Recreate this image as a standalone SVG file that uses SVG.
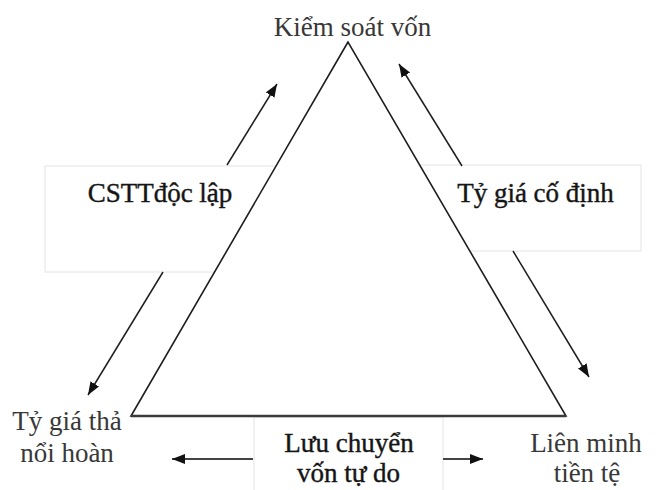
<svg xmlns="http://www.w3.org/2000/svg" width="656" height="490" viewBox="0 0 656 490">
<defs>
<style>
.box{fill:#fff;stroke:#e4e4e4;stroke-width:1}
.tri{fill:#fff;stroke:#1e1e1e;stroke-width:1.6;stroke-linejoin:miter}
.arr{stroke:#1e1e1e;stroke-width:1.5;fill:none;marker-end:url(#ah)}
.harr{stroke:#444;stroke-width:2.2;fill:none;marker-end:url(#ah)}
.t{font-family:"Liberation Serif","Times New Roman",serif;font-size:27px;fill:#383838;text-anchor:middle}
.b{fill:#151515;stroke:#151515;stroke-width:0.4}
</style>
<marker id="ah" markerUnits="userSpaceOnUse" markerWidth="14" markerHeight="12" refX="13" refY="5" orient="auto">
<path d="M0,0 L13,5 L0,10 Z" fill="#111"/>
</marker>
</defs>
<rect width="656" height="490" fill="#fff"/>
<g id="box-cstt"><rect class="box" x="45" y="166" width="240" height="106"/></g>
<g id="box-codinh"><rect class="box" x="420" y="165" width="221" height="86"/></g>
<g id="box-luuchuyen"><rect class="box" x="254" y="417" width="189" height="80"/></g>
<g id="triangle">
<polygon class="tri" points="348,42 131,416 566,416"/>
<line x1="131" y1="416" x2="566" y2="416" stroke="#3a3a3a" stroke-width="2.4"/>
</g>
<g id="connectors">
<line class="arr" x1="227" y1="165" x2="277" y2="84"/>
<line class="arr" x1="462" y1="166" x2="399" y2="64"/>
<line class="arr" x1="163" y1="272" x2="88" y2="395"/>
<line class="arr" x1="513" y1="251" x2="589" y2="377"/>
<line class="harr" x1="253" y1="459" x2="172" y2="459"/>
<line class="harr" x1="443" y1="459" x2="483" y2="459"/>
</g>
<g id="node-kiemsoat"><text class="t" x="352.5" y="36">Kiểm soát vốn</text></g>
<g id="node-cstt"><text class="t b" x="160" y="202">CSTTđộc lập</text></g>
<g id="node-codinh"><text class="t b" x="535.5" y="202">Tỷ giá cố định</text></g>
<g id="node-thanoi"><text class="t" x="67" y="430">Tỷ giá thả</text><text class="t" x="67" y="461.5">nổi hoàn</text></g>
<g id="node-luuchuyen"><text class="t b" x="349" y="452">Lưu chuyển</text><text class="t b" x="348.5" y="481.5">vốn tự do</text></g>
<g id="node-lienminh"><text class="t" x="586" y="451.5">Liên minh</text><text class="t" x="587" y="481.5">tiền tệ</text></g>
</svg>
